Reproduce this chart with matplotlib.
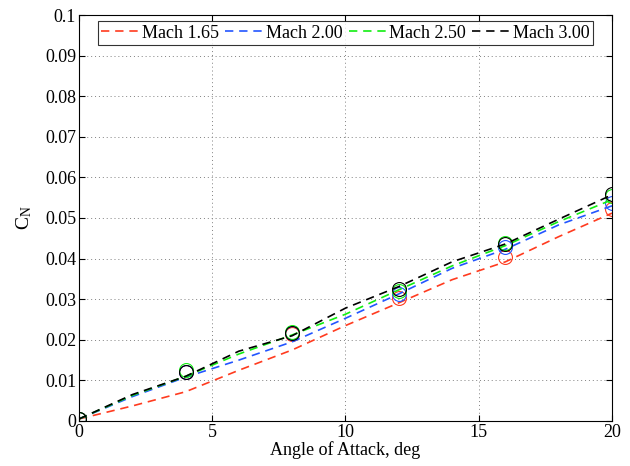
import matplotlib
matplotlib.use("Agg")
import matplotlib.pyplot as plt

plt.rcParams["font.family"] = ["Liberation Serif", "DejaVu Serif"]
plt.rcParams["mathtext.fontset"] = "custom"
plt.rcParams["mathtext.rm"] = "Liberation Serif"
plt.rcParams["mathtext.it"] = "Liberation Serif:italic"

# computed curves, every 2 deg
alpha = [0, 2, 4, 6, 8, 10, 12, 14, 16, 18, 20]
cn_165 = [0.0005, 0.0037, 0.0072, 0.0125, 0.0175, 0.0235, 0.0291, 0.0348, 0.0392, 0.0454, 0.0512]
cn_200 = [0.0005, 0.0060, 0.0108, 0.0150, 0.0195, 0.0253, 0.0313, 0.0376, 0.0423, 0.0483, 0.0530]
cn_250 = [0.0005, 0.0063, 0.0110, 0.0165, 0.0212, 0.0263, 0.0323, 0.0382, 0.0432, 0.0491, 0.0545]
cn_300 = [0.0005, 0.0065, 0.0110, 0.0172, 0.0210, 0.0278, 0.0331, 0.0392, 0.0436, 0.0497, 0.0557]

# test points
alpha_exp = [0, 4, 8, 12, 16, 20]
exp_165 = [0.0005, 0.0120, 0.0215, 0.0302, 0.0405, 0.0522]
exp_200 = [0.0005, 0.0120, 0.0217, 0.0313, 0.0429, 0.0537]
exp_250 = [0.0005, 0.0125, 0.0219, 0.0320, 0.0439, 0.0553]
exp_300 = [0.0005, 0.0121, 0.0216, 0.0324, 0.0435, 0.0558]

labels = ["Mach 1.65", "Mach 2.00", "Mach 2.50", "Mach 3.00"]
colors = ["#ff3b1f", "#2255ff", "#11ee11", "black"]

fig = plt.figure(figsize=(6.3, 4.66), dpi=100)
ax = fig.add_axes([0.1254, 0.0966, 0.8460, 0.8712])

curves = [cn_165, cn_200, cn_250, cn_300]
points = [exp_165, exp_200, exp_250, exp_300]
for cn, pts, c, lab in zip(curves, points, colors, labels):
    ax.plot(alpha, cn, color=c, linestyle=(0, (5, 3.5)), linewidth=1.2, label=lab)
    ax.plot(alpha_exp, pts, "o", markerfacecolor="none", markeredgecolor=c,
            markersize=10, markeredgewidth=0.8)

ax.set_xlim(0, 20)
ax.set_ylim(0, 0.1)
ax.set_xticks([0, 5, 10, 15, 20])
yt = [i / 100 for i in range(11)]
ax.set_yticks(yt)
ax.set_yticklabels(["%g" % v for v in yt])
ax.tick_params(direction="in", top=True, right=True, labelsize=13, length=4, pad=2)
ax.grid(True, linestyle=(0, (1, 3)), color="gray", linewidth=0.7)
for s in ax.spines.values():
    s.set_linewidth(0.8)

ax.set_xlabel("Angle of Attack, deg", fontsize=13, labelpad=0)
ax.set_ylabel(r"C$_{\rm N}$", fontsize=14, labelpad=8)

leg = ax.legend(loc="upper center", ncol=4, fontsize=13, frameon=True, fancybox=False,
                edgecolor="black", handlelength=2.1, handletextpad=0.15, columnspacing=0.35,
                borderpad=0.2, borderaxespad=0, bbox_to_anchor=(0.5, 0.985))
leg.get_frame().set_linewidth(0.8)

fig.savefig("out.png", dpi=100)
